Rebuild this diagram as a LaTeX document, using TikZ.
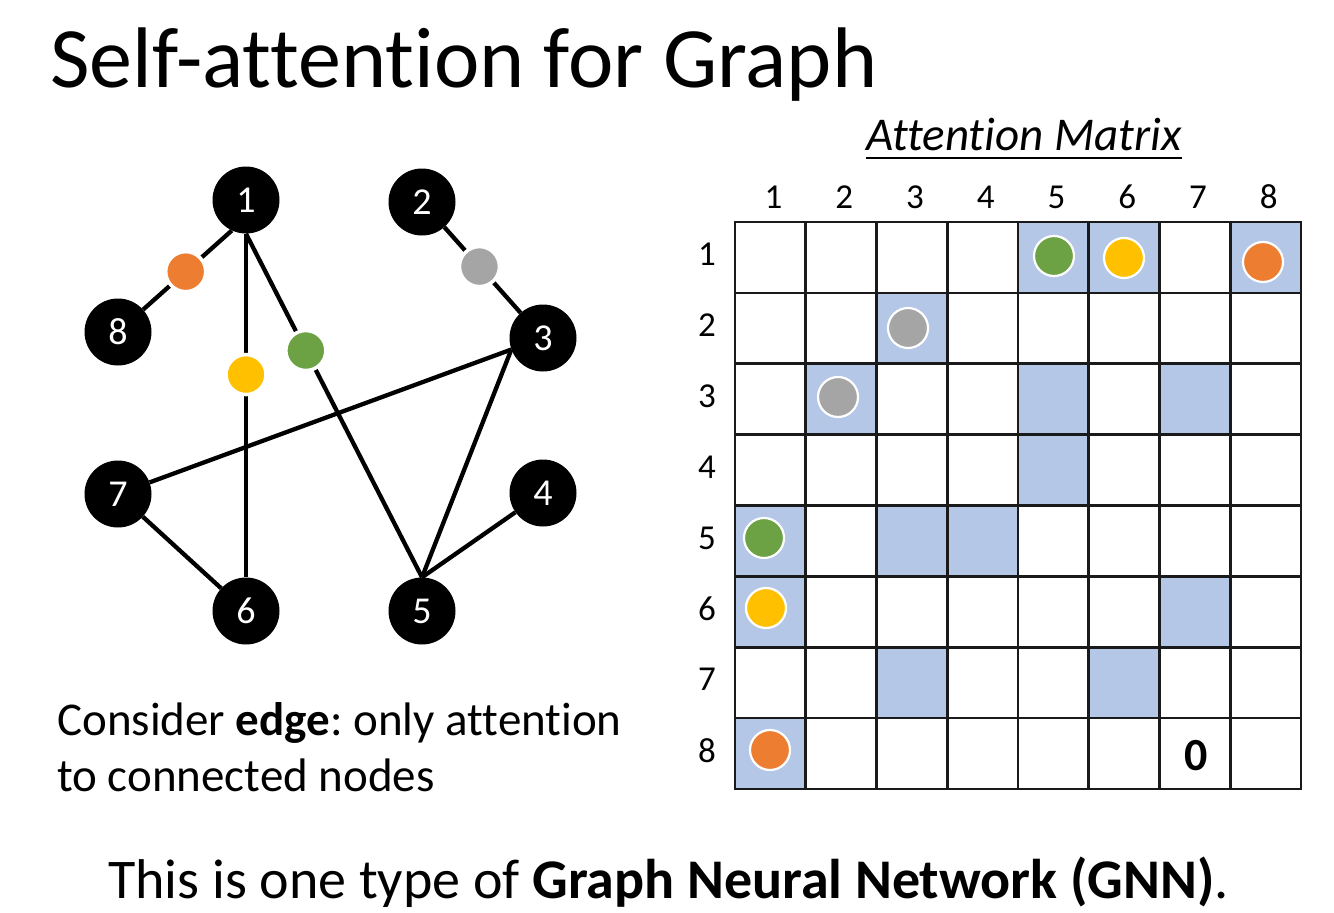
\documentclass[tikz,border=0pt]{standalone}
\usepackage{fontspec}
\setmainfont{Carlito}[Ligatures={NoCommon}]
\definecolor{dorange}{HTML}{ED7D31}
\definecolor{dgray}{HTML}{A5A5A5}
\definecolor{dgreen}{HTML}{6CA243}
\definecolor{dyellow}{HTML}{FFC000}
\definecolor{hlblue}{HTML}{B4C7E7}
\definecolor{gridc}{HTML}{1A1A1A}
\frenchspacing
\begin{document}
\begin{tikzpicture}[x=1pt,y=-1pt,
  gnode/.style={circle, fill=black, minimum size=67pt, inner sep=0pt, text=white, font=\fontsize{38}{44}\selectfont},
  edge/.style={line width=4.3pt, draw=black},
  dot/.style={circle, minimum size=40pt, inner sep=0pt, draw=white, line width=3.5pt},
  mdot/.style={circle, minimum size=40pt, inner sep=0pt, draw=white, line width=2.2pt},
  hl/.style={fill=hlblue},
  gridline/.style={line width=2.6pt, draw=gridc},
  lab/.style={font=\fontsize{35}{40}\selectfont, inner sep=0pt},
  txt/.style={anchor=base west, inner sep=0pt}
]
\useasboundingbox[fill=white] (0,0) rectangle (1334,913);

% title
\node[txt, font=\fontsize{86}{100}\selectfont] (title) at (50,87) {Self-attention for Graph};

% graph nodes
\node[gnode] (n1) at (246,200) {1};
\node[gnode] (n2) at (422,202) {2};
\node[gnode] (n3) at (543,338) {3};
\node[gnode] (n4) at (543,493) {4};
\node[gnode] (n5) at (422,611) {5};
\node[gnode] (n6) at (246,611) {6};
\node[gnode] (n7) at (118,494) {7};
\node[gnode] (n8) at (118,332) {8};

% edges
\draw[edge] (n2) -- (n3) node[dot, fill=dgray, pos=0.46] (d23) {};
\draw[edge] (n3.200) -- (n7);
\draw[edge] (n3.200) -- (n5.north);
\draw[edge] (n7) -- (n6);
\draw[edge] (n4) -- (n5.north);
\draw[edge] (n1.245) -- (n8) node[dot, fill=dorange, pos=0.52] (d18) {};
\draw[edge] (n1.south) -- (n6.north) node[dot, fill=dyellow, pos=0.41] (d16) {};
\draw[edge] (n1.south) -- (n5.north) node[dot, fill=dgreen, pos=0.34] (d15) {};

% caption left
\node[txt, font=\fontsize{47}{57}\selectfont] (cap1) at (57,735) {Consider \textbf{edge}: only attention};
\node[txt, font=\fontsize{47}{57}\selectfont] (cap2) at (57,791) {to connected nodes};

% attention matrix title
\node[txt, font=\itshape\fontsize{47}{55}\selectfont] (mtitle) at (866,150) {Attention Matrix};
\draw[line width=1.8pt] (mtitle.base west) ++(0,8) -- ([yshift=-8pt]mtitle.base east);

% highlighted cells
\foreach \r/\c in {1/5,1/6,1/8,2/3,3/2,3/5,3/7,4/5,5/1,5/3,5/4,6/1,6/7,7/3,7/6,8/1}{
  \fill[hl] ({735+(\c-1)*70.75},{222+(\r-1)*70.875}) rectangle ++(70.75,70.875);
}
% grid
\foreach \i in {0,...,8}{
  \draw[gridline, line cap=rect] ({735+\i*70.75},222) -- ({735+\i*70.75},789);
  \draw[gridline, line cap=rect] (735,{222+\i*70.875}) -- (1301,{222+\i*70.875});
}
% column labels
\foreach \c in {1,...,8}{
  \node[lab] (col\c) at ({735+(\c-0.5)*70.75+3},197) {\c};
}
% row labels
\foreach \r in {1,...,8}{
  \node[lab] (row\r) at (707,{222+(\r-0.5)*70.875-3}) {\r};
}
% matrix dots
\node[mdot, fill=dgreen] (m15) at (1054,256) {};
\node[mdot, fill=dyellow] (m16) at (1124,258) {};
\node[mdot, fill=dorange] (m18) at (1263,262) {};
\node[mdot, fill=dgray] (m23) at (908,328) {};
\node[mdot, fill=dgray] (m32) at (838,397) {};
\node[mdot, fill=dgreen] (m51) at (764,538) {};
\node[mdot, fill=dyellow] (m61) at (766,608) {};
\node[mdot, fill=dorange] (m81) at (770,750) {};
\node[font=\bfseries\fontsize{46}{50}\selectfont, inner sep=0pt] (zero) at (1196,756) {0};

% bottom line
\node[txt, font=\fontsize{56}{66}\selectfont] (bottom) at (108,898) {This is one type of \textbf{Graph Neural Network (GNN)}.};
\end{tikzpicture}
\end{document}
